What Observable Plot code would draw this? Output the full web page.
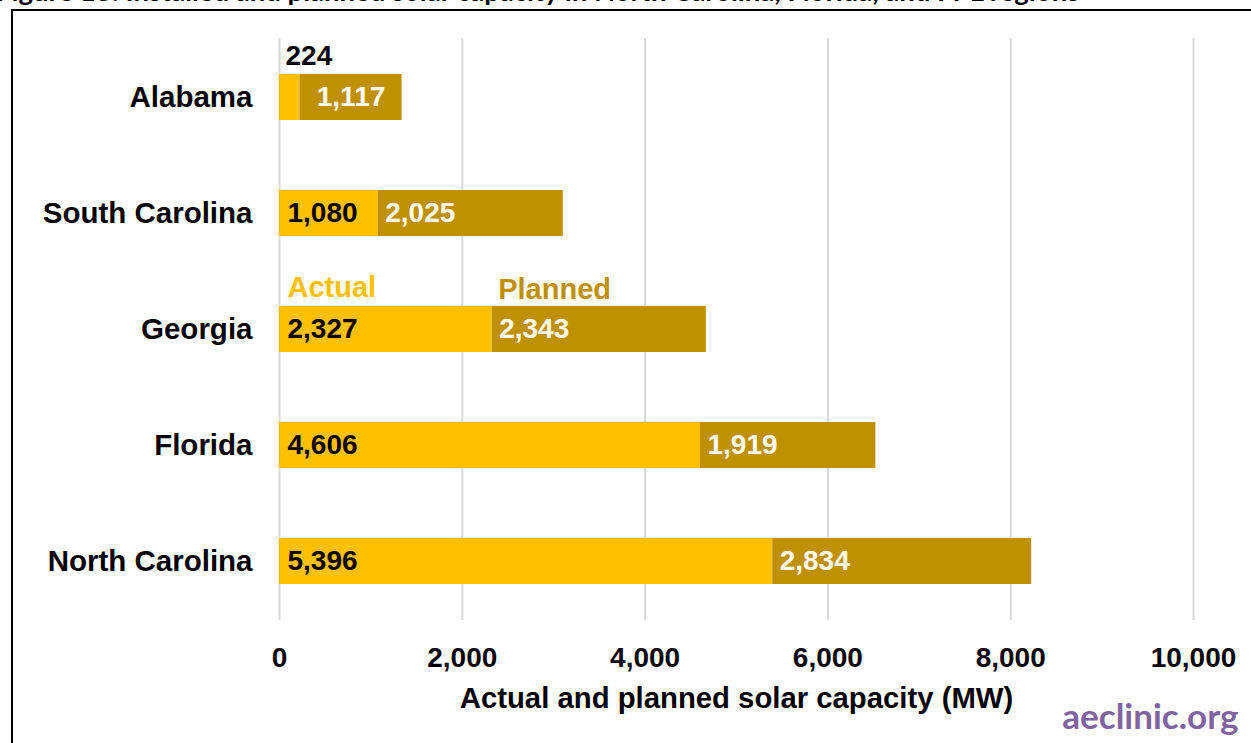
<!DOCTYPE html>
<html>
<head>
<meta charset="utf-8">
<script src="https://cdn.jsdelivr.net/npm/d3@7"></script>
<script src="https://cdn.jsdelivr.net/npm/@observablehq/plot@0.6"></script>
<style>
  html, body { margin: 0; padding: 0; background: #fff; overflow: hidden; }
  #page { position: relative; width: 1251px; height: 743px; overflow: hidden; }
  #title {
    position: absolute; left: -4px; top: -23px; white-space: nowrap;
    font: bold 27.5px/27.5px Lato, "Liberation Sans", sans-serif; color: #000;
  }
  #frame {
    position: absolute; left: 11px; top: 9px; width: 1400px; height: 900px;
    border-left: 2px solid #000; border-top: 2px solid #000;
  }
  #chart { position: absolute; left: 0; top: 0; }
</style>
</head>
<body>
<div id="page">
  <div id="title">Figure 13: Installed and planned solar capacity in North Carolina, Florida, and FPL regions</div>
  <div id="frame"></div>
  <div id="chart"></div>
</div>
<script>
// Solar capacity by state, MW
const states = ["Alabama", "South Carolina", "Georgia", "Florida", "North Carolina"];
const actualMW = [224, 1080, 2327, 4606, 5396];
const plannedMW = [1117, 2025, 2343, 1919, 2834];

// Axis ticks and text
const xTicks = [0, 2000, 4000, 6000, 8000, 10000];
const seriesNames = ["Actual", "Planned"];
const legendState = "Georgia";
const xLabel = "Actual and planned solar capacity (MW)";
const credit = "aeclinic.org";

const colors = { actual: "#FFC000", planned: "#BF9000" };
const fmt = d3.format(",");

const rows = states.map((state, i) => ({
  state,
  actual: actualMW[i],
  planned: plannedMW[i],
  total: actualMW[i] + plannedMW[i]
}));

// Segments too short to hold their label
const smallActual = 600;
const smallPlanned = 1500;
const legendRow = rows.filter(d => d.state === legendState);

const plot = Plot.plot({
  width: 1251,
  height: 743,
  marginLeft: 279,
  marginRight: 58,
  marginTop: 38,
  marginBottom: 123,
  style: {
    fontFamily: '"Liberation Sans", Arial, sans-serif',
    fontWeight: "bold",
    fontSize: "28px",
    background: "transparent",
    overflow: "visible"
  },
  x: { domain: [0, 10000], ticks: xTicks, tickFormat: fmt },
  y: { domain: states, paddingInner: 0.6, paddingOuter: 0.3 },
  marks: [
    Plot.gridX(xTicks, { stroke: "#d9d9d9", strokeOpacity: 1, strokeWidth: 2 }),
    Plot.barX(rows, { y: "state", x1: 0, x2: "actual", fill: colors.actual }),
    Plot.barX(rows, { y: "state", x1: "actual", x2: "total", fill: colors.planned }),
    // actual values: inside the bar, or above it when the segment is short
    Plot.text(rows.filter(d => d.actual >= smallActual), {
      y: "state", x: 0, text: d => fmt(d.actual), textAnchor: "start", dx: 8,
      fill: "#000", fontSize: 28
    }),
    Plot.text(rows.filter(d => d.actual < smallActual), {
      y: "state", x: 0, text: d => fmt(d.actual), textAnchor: "start", dx: 6, dy: -41,
      fill: "#000", fontSize: 28
    }),
    // planned values
    Plot.text(rows.filter(d => d.planned >= smallPlanned), {
      y: "state", x: "actual", text: d => fmt(d.planned), textAnchor: "start", dx: 7,
      fill: "#fff", fontSize: 28
    }),
    Plot.text(rows.filter(d => d.planned < smallPlanned), {
      y: "state", x: d => d.actual + d.planned / 2, text: d => fmt(d.planned),
      fill: "#fff", fontSize: 28
    }),
    // series names above the Georgia bar
    Plot.text(legendRow, {
      y: "state", x: 0, text: () => seriesNames[0], textAnchor: "start", dx: 8, dy: -42,
      fill: colors.actual, fontSize: 29
    }),
    Plot.text(legendRow, {
      y: "state", x: "actual", text: () => seriesNames[1], textAnchor: "start", dx: 6, dy: -40,
      fill: colors.planned, fontSize: 29
    }),
    Plot.axisY({ tickSize: 0, tickPadding: 27, fontSize: 29.5, label: null }),
    Plot.axisX({ ticks: xTicks, tickSize: 0, tickPadding: 27, tickFormat: fmt, fontSize: 28, label: null }),
    Plot.text([xLabel], {
      frameAnchor: "bottom", lineAnchor: "bottom", dy: 87, text: d => d, fontSize: 29.3, fill: "#000"
    }),
    Plot.text([credit], {
      frameAnchor: "bottom-right", lineAnchor: "bottom", textAnchor: "end", dx: 45, dy: 108,
      text: d => d, fontSize: 35, fill: "#8064A2", fontFamily: "Lato, sans-serif"
    })
  ]
});

document.getElementById("chart").appendChild(plot);
</script>
</body>
</html>
